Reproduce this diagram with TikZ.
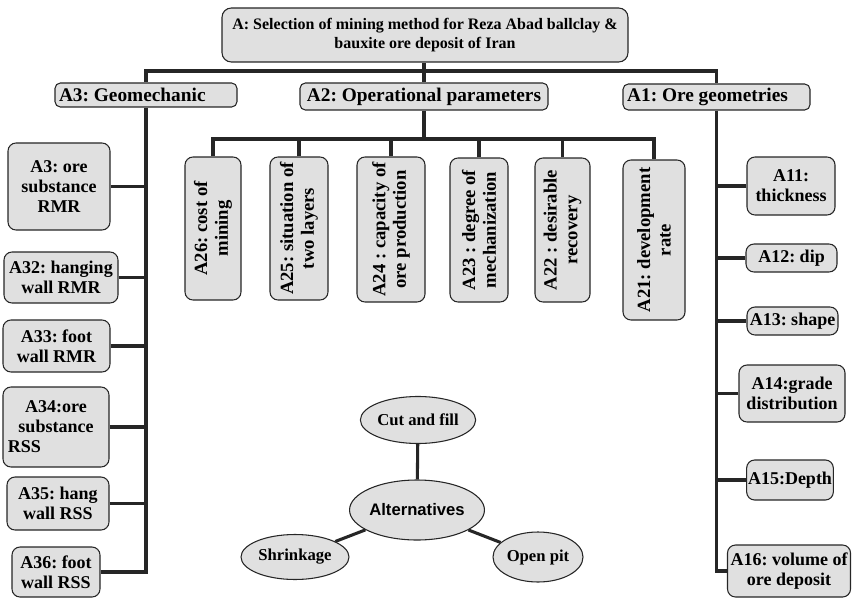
\documentclass[tikz,border=0pt]{standalone}
\usepackage{fontspec}
\setmainfont{Liberation Serif}
\newfontfamily\altfont{Liberation Sans}
\usetikzlibrary{shapes.geometric}
\frenchspacing
\tikzset{
  sz/.style 2 args={minimum width=#1*0.75pt, minimum height=#2*0.75pt},
  box/.style={draw=black!85, line width=0.8pt, fill=black!12, rounded corners=6pt,
    inner sep=1pt, align=center, font=\bfseries\fontsize{13.5}{15}\selectfont},
  headbox/.style={box, rounded corners=4pt, font=\bfseries\fontsize{14.5}{16}\selectfont},
  rbox/.style={box, rotate=90, font=\bfseries\fontsize{14}{15.5}\selectfont},
  oval/.style={ellipse, draw=black!85, line width=0.8pt, fill=black!12, inner sep=0pt,
    font=\bfseries\fontsize{12.5}{14}\selectfont},
  link/.style={line width=2.3pt, draw=black!85, line join=miter},
}
\begin{document}
\begin{tikzpicture}[x=0.75pt,y=-0.75pt]
\useasboundingbox (0,0) rectangle (852,599);

% top level
\node[box, sz={406}{54}, rounded corners=7pt, font=\bfseries\fontsize{12}{14}\selectfont] (A) at (425,35)
  {A: Selection of mining method for Reza Abad ballclay \&\\bauxite ore deposit of Iran};
\node[headbox, sz={182}{24}] (A3) at (146,95) {\makebox[130.5pt][l]{A3: Geomechanic}};
\node[headbox, sz={248}{27}] (A2) at (424,96.5) {A2: Operational parameters};
\node[headbox, sz={187}{26}] (A1) at (716.5,97) {\makebox[134pt][l]{A1: Ore geometries}};

% left column
\node[box, sz={102}{87}] (L1) at (59,186.5) {A3: ore\\substance\\RMR};
\node[box, sz={114}{51}] (L2) at (61,277.5) {A32: hanging\\wall RMR};
\node[box, sz={107}{52}] (L3) at (56.5,346) {A33: foot\\wall RMR};
\node[box, sz={106}{80}] (L4) at (56,427) {A34:ore\\substance\\\rlap{\hspace*{-8pt}RSS}\phantom{substance}};
\node[box, sz={102}{53}] (L5) at (58,503.5) {A35: hang\\wall RSS};
\node[box, sz={88}{50}] (L6) at (56,572) {A36: foot\\wall RSS};

% middle (rotated)
\node[rbox, sz={143}{56}] (M1) at (213,228.5) {A26: cost of\\mining};
\node[rbox, sz={143}{58}] (M2) at (299,228.5) {A25: situation of\\two layers};
\node[rbox, sz={145}{68}] (M3) at (391,229.5) {A24 : capacity of\\ore production};
\node[rbox, sz={144}{58}] (M4) at (479,230) {A23 : degree of\\mechanization};
\node[rbox, sz={144}{55}] (M5) at (562.5,230) {A22 : desirable\\recovery};
\node[rbox, sz={160}{62}] (M6) at (654,240) {A21: development\\rate};

% right column
\node[box, sz={88}{58}] (R1) at (791,186) {A11:\\thickness};
\node[box, sz={91}{28}] (R2) at (791.5,258) {A12: dip};
\node[box, sz={91}{28}] (R3) at (792.5,321) {A13: shape};
\node[box, sz={106}{57}] (R4) at (792,393.5) {A14:grade\\distribution};
\node[box, sz={86}{40}] (R5) at (790,480) {A15:Depth};
\node[box, sz={123}{52}] (R6) at (789,571) {A16: volume of\\ore deposit};

% alternatives
\node[oval, sz={108}{47}] (E1) at (418,420) {Cut and fill};
\node[oval, sz={127}{60}, font=\altfont\bfseries\fontsize{12.5}{14}\selectfont] (E2) at (417,510) {Alternatives};
\node[oval, sz={108}{45}] (E3) at (295,557) {Shrinkage};
\node[oval, sz={90}{50}] (E4) at (538,557) {Open pit};

% connectors: top bus
\coordinate (bus) at (0,71);
\coordinate (sb) at (0,139);
\draw[link] (A3.north) -- (A3.north |- bus) -- (A1.north |- bus) -- (A1.north);
\draw[link] (A2.north) -- (A2.north |- A.south);

% operational sub-bus
\draw[link] (A2.south) -- (A2.south |- sb);
\draw[link] (M1.east) -- (M1.east |- sb) -- (M6.east |- sb) -- (M6.east);
\foreach \m in {M2,M3,M4,M5} \draw[link] (\m.east) -- (\m.east |- sb);

% left column
\draw[link] (A3.south) -- (A3.south |- L6.east) -- (L6.east);
\foreach \l in {L1,L2,L3,L4,L5} \draw[link] (\l.east) -- (\l.east -| A3.south);

% right column
\draw[link] (A1.south) -- (A1.south |- R6.west) -- (R6.west);
\foreach \r in {R1,R2,R3,R4,R5} \draw[link] (\r.west) -- (\r.west -| A1.south);

% alternatives
\draw[link] (E1) -- (E2);
\draw[link] (E2) -- (E3);
\draw[link] (E2) -- (E4);
\end{tikzpicture}
\end{document}
